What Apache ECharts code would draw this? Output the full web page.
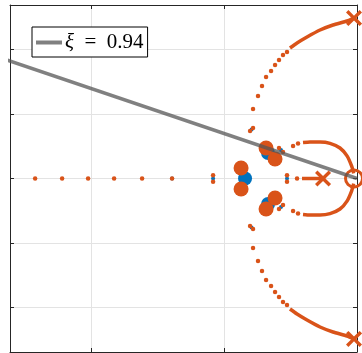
<!DOCTYPE html>
<html>
<head>
<meta charset="utf-8">
<script src="https://cdn.jsdelivr.net/npm/echarts@6/dist/echarts.min.js"></script>
<style>
  html, body { margin: 0; padding: 0; background: #fff; }
  #rlocus { width: 362px; height: 353px; }
</style>
</head>
<body>
<div id="rlocus"></div>
<script>
// 根轨迹数据
const xRange = [-5.22, 0]
const yRange = [-2.69, 2.69]
const legendName = 'xi'
const legendText = '{i|ξ}\u2002=\u20020.94'

// 阻尼线 ξ = 0.94
const dampingLine = [[0, 0], [-5.3, 1.85]]

// 稀疏的橙色小点
const orangeDots = [
  // 实轴
  [-4.842, 0], [-4.436, 0], [-4.045, 0], [-3.654, 0], [-3.233, 0], [-2.782, 0],
  [-2.165, 0.05], [-2.165, -0.05], [-1.053, 0.05], [-1.053, -0.05], [-0.902, 0],
  // 上大弧
  [-1.564, 1.078], [-1.489, 1.279], [-1.429, 1.434], [-1.368, 1.574], [-1.293, 1.667],
  [-1.233, 1.760], [-1.173, 1.837], [-1.113, 1.915], [-1.053, 1.961],
  // 下大弧
  [-1.564, -1.078], [-1.489, -1.279], [-1.429, -1.434], [-1.368, -1.574], [-1.293, -1.667],
  [-1.233, -1.760], [-1.173, -1.837], [-1.113, -1.915], [-1.053, -1.961],
  // 小环
  [-0.962, 0.504], [-0.887, 0.543], [-0.962, -0.504], [-0.887, -0.543],
  // 闭环极点附近
  [-1.609, 0.736], [-1.564, 0.783], [-1.173, 0.473], [-1.113, 0.411],
  [-1.609, -0.736], [-1.564, -0.783], [-1.173, -0.473], [-1.113, -0.411]
]

// 蓝色小点
const blueDots = [
  [-2.165, 0], [-1.053, 0], [-1.586, 0.760], [-1.143, 0.442],
  [-1.586, -0.760], [-1.143, -0.442], [-2.782, 0]
]

// 密集部分（画成线）
const upperArc = [[-1.008, 2.023], [-0.902, 2.101], [-0.752, 2.194], [-0.556, 2.302], [-0.361, 2.380], [-0.150, 2.442], [-0.045, 2.488]]
const lowerArc = [[-1.008, -2.023], [-0.902, -2.101], [-0.752, -2.194], [-0.556, -2.302], [-0.361, -2.380], [-0.150, -2.442], [-0.045, -2.488]]
const upperLoop = [[-0.812, 0.558], [-0.707, 0.566], [-0.556, 0.566], [-0.406, 0.545], [-0.256, 0.473], [-0.150, 0.350], [-0.080, 0.190], [-0.050, 0.080]]
const lowerLoop = [[-0.812, -0.558], [-0.707, -0.566], [-0.556, -0.566], [-0.406, -0.545], [-0.256, -0.473], [-0.150, -0.350], [-0.080, -0.190], [-0.050, -0.080]]
const realSegment = [[-0.827, 0], [-0.511, 0]]

// 极点、零点
const orangePoles = [[-0.045, 2.488], [-0.045, -2.488], [-0.511, 0]]
const orangeZeros = [[-0.045, 0]]

// 闭环极点（大圆点）
const blueBig = [[-1.338, 0.395], [-1.338, -0.395], [-1.684, 0]]
const orangeBig = [
  [-1.368, 0.473], [-1.233, 0.302], [-1.744, 0.163],
  [-1.368, -0.473], [-1.233, -0.302], [-1.744, -0.163]
]

const ORANGE = '#D95319'
const BLUE = '#0072BD'
const crossPath = 'path://M0,1.5L1.5,0L5,3.5L8.5,0L10,1.5L6.5,5L10,8.5L8.5,10L5,6.5L1.5,10L0,8.5L3.5,5Z'

let myChart = echarts.init(document.getElementById('rlocus'))

const axisCommon = {
  type: 'value',
  axisLabel: { show: false },
  axisTick: { show: true, inside: true, length: 4, lineStyle: { color: '#262626', width: 1 } },
  axisLine: { show: true, onZero: false, lineStyle: { color: '#262626', width: 1 } },
}

const curveSeries = [upperArc, lowerArc, upperLoop, lowerLoop, realSegment].map(d => ({
  type: 'line',
  data: d,
  symbol: 'none',
  smooth: 0.2,
  lineStyle: { color: ORANGE, width: 3.5 },
  silent: true,
  z: 3
}))

let option = {
  animation: false,
  grid: { left: 10, right: 5, top: 5, bottom: 1 },
  xAxis: [
    Object.assign({}, axisCommon, {
      min: xRange[0], max: xRange[1], splitNumber: 3, position: 'bottom',
      splitLine: { show: true, lineStyle: { color: '#e3e3e3', width: 1 } }
    }),
    Object.assign({}, axisCommon, {
      min: xRange[0], max: xRange[1], splitNumber: 3, position: 'top',
      splitLine: { show: false }
    })
  ],
  yAxis: [
    Object.assign({}, axisCommon, {
      min: yRange[0], max: yRange[1], splitNumber: 5, position: 'left',
      splitLine: { show: true, lineStyle: { color: '#e3e3e3', width: 1 } }
    }),
    Object.assign({}, axisCommon, {
      min: yRange[0], max: yRange[1], splitNumber: 5, position: 'right',
      splitLine: { show: false }
    })
  ],
  legend: {
    data: [{ name: legendName, icon: 'rect' }],
    left: 32,
    top: 27,
    orient: 'vertical',
    backgroundColor: '#fff',
    borderColor: '#000',
    borderWidth: 1,
    padding: [5, 4, 4, 4],
    itemWidth: 26,
    itemHeight: 4,
    itemGap: 0,
    selectedMode: false,
    itemStyle: { color: '#808080' },
    formatter: () => legendText,
    textStyle: {
      color: '#000',
      fontFamily: 'Liberation Serif',
      fontSize: 21,
      padding: [0, 0, 0, -2],
      rich: {
        i: { fontFamily: 'Liberation Serif', fontStyle: 'italic', fontSize: 21, color: '#000' }
      }
    }
  },
  series: [
    ...curveSeries,
    {
      type: 'scatter',
      data: blueDots,
      symbolSize: 4,
      itemStyle: { color: BLUE, opacity: 1 },
      clip: false,
      z: 3
    },
    {
      type: 'scatter',
      data: orangeDots,
      symbolSize: 4.5,
      itemStyle: { color: ORANGE, opacity: 1 },
      clip: false,
      z: 4
    },
    {
      type: 'scatter',
      data: orangePoles,
      symbol: crossPath,
      symbolSize: 16,
      itemStyle: { color: ORANGE, opacity: 1 },
      clip: false,
      z: 5
    },
    {
      type: 'scatter',
      data: orangeZeros,
      symbol: 'circle',
      symbolSize: 17,
      itemStyle: { color: 'transparent', borderColor: ORANGE, borderWidth: 3, opacity: 1 },
      clip: false,
      z: 5
    },
    {
      type: 'scatter',
      data: blueBig,
      symbolSize: 14,
      itemStyle: { color: BLUE, opacity: 1 },
      clip: false,
      z: 6
    },
    {
      type: 'scatter',
      data: orangeBig,
      symbolSize: 15,
      itemStyle: { color: ORANGE, opacity: 1 },
      clip: false,
      z: 7
    },
    {
      name: legendName,
      type: 'line',
      data: dampingLine,
      symbol: 'none',
      lineStyle: { color: '#555', width: 3.5, opacity: 0.75 },
      itemStyle: { color: '#808080' },
      silent: true,
      z: 8
    }
  ]
}
myChart.setOption(option)
</script>
</body>
</html>
